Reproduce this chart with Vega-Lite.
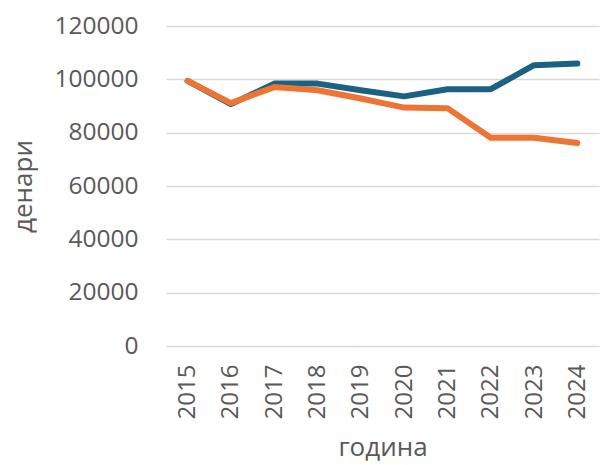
{
  "$schema": "https://vega.github.io/schema/vega-lite/v6.json",
  "width": 433,
  "height": 320,
  "autosize": {"type": "none"},
  "padding": {"left": 166, "top": 26, "right": 3, "bottom": 119},
  "background": "white",
  "config": {
    "view": {"stroke": null},
    "font": "Open Sans",
    "axis": {"labelFont": "Open Sans", "titleFont": "Open Sans", "labelColor": "#595959", "titleColor": "#595959", "titleFontWeight": "normal"}
  },
  "data": {
    "values": [
      {"year": "2015", "series": "A", "value": 99400},
      {"year": "2016", "series": "A", "value": 90700},
      {"year": "2017", "series": "A", "value": 98400},
      {"year": "2018", "series": "A", "value": 98400},
      {"year": "2019", "series": "A", "value": 95900},
      {"year": "2020", "series": "A", "value": 93600},
      {"year": "2021", "series": "A", "value": 96300},
      {"year": "2022", "series": "A", "value": 96300},
      {"year": "2023", "series": "A", "value": 105300},
      {"year": "2024", "series": "A", "value": 105900},
      {"year": "2015", "series": "B", "value": 99400},
      {"year": "2016", "series": "B", "value": 91100},
      {"year": "2017", "series": "B", "value": 97100},
      {"year": "2018", "series": "B", "value": 95900},
      {"year": "2019", "series": "B", "value": 92800},
      {"year": "2020", "series": "B", "value": 89400},
      {"year": "2021", "series": "B", "value": 89200},
      {"year": "2022", "series": "B", "value": 78100},
      {"year": "2023", "series": "B", "value": 78100},
      {"year": "2024", "series": "B", "value": 76100}
    ]
  },
  "mark": {"type": "line", "strokeWidth": 6, "strokeCap": "round", "strokeJoin": "round"},
  "encoding": {
    "x": {
      "field": "year", "type": "ordinal",
      "scale": {"type": "point", "padding": 0.5},
      "axis": {"title": "година", "labelAngle": -90, "labelFontSize": 24, "titleFontSize": 26, "ticks": false, "domain": false, "labelPadding": 18, "titlePadding": 16, "grid": false}
    },
    "y": {
      "field": "value", "type": "quantitative",
      "scale": {"domain": [0, 120000], "nice": false},
      "axis": {"title": "денари", "values": [0, 20000, 40000, 60000, 80000, 100000, 120000], "format": "d", "labelFontSize": 24.5, "titleFontSize": 26, "ticks": false, "domain": false, "labelPadding": 28, "titlePadding": 17, "gridColor": "#d9d9d9", "gridWidth": 1.5}
    },
    "color": {
      "field": "series", "type": "nominal",
      "scale": {"domain": ["A", "B"], "range": ["#1a6182", "#ed7433"]},
      "legend": null
    },
    "order": {"field": "series", "sort": "ascending"}
  }
}
